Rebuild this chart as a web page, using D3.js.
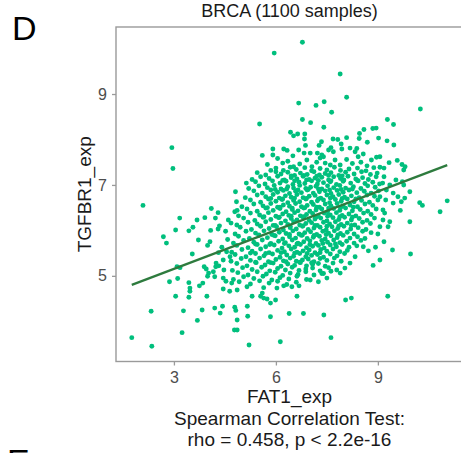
<!DOCTYPE html>
<html>
<head>
<meta charset="utf-8">
<script src="https://d3js.org/d3.v7.min.js"></script>
<style>
  body { margin: 0; background: #fff; }
  text { font-family: "Liberation Sans", Arial, sans-serif; }
</style>
</head>
<body>
<script>
// panel labels and texts
var panelLabel = "D", nextPanelLabel = "E";
var chartTitle = "BRCA (1100 samples)";
var xLabel = "FAT1_exp", yLabel = "TGFBR1_exp";
var testLines = ["Spearman Correlation Test:", "rho = 0.458, p < 2.2e-16"];
var xTicks = [3, 6, 9], yTicks = [5, 7, 9];

// linear fit
var fitIntercept = 4.30, fitSlope = 0.284;

// sparse points above the cloud
var topPoints = [
  [6.78,10.14],[5.95,9.90],[7.89,9.44],[8.08,8.93],[10.25,8.67],[6.67,8.80],[7.18,8.75],[7.42,8.83],
  [7.64,8.60],[6.78,8.44],[7.02,8.37],[5.52,8.34],[7.41,8.27],[9.28,8.44],[9.46,8.33],[8.85,8.24],
  [8.95,8.25],[8.59,8.22],[6.43,8.16],[6.52,8.08],[6.64,8.12],[6.85,8.12],[6.84,8.01],[6.87,7.87],
  [8.46,8.13],[8.45,8.02],[8.08,8.04],[9.02,8.03],[9.27,7.97],[9.47,7.88],[7.68,8.01],[7.82,8.00],
  [8.69,7.94],[7.92,7.90],[7.34,7.95],[7.27,7.87],[7.62,7.82],[7.69,7.73],[7.94,7.79],[5.91,7.79],
  [5.91,7.66],[5.60,7.65],[6.23,7.79],[6.33,7.76],[6.67,7.77],[6.50,7.64],[8.38,7.80],[8.18,7.81],
  [8.33,7.73],[8.42,7.62],[8.57,7.68],[8.81,7.55],[8.96,7.61],[9.06,7.62],[9.06,7.39],[9.33,7.49],
  [9.57,7.54],[9.71,7.45],[9.80,7.40],[9.76,7.33],[9.18,7.37],[6.83,7.70],[7.01,7.70],[7.22,7.70],
  [7.35,7.66],[7.55,7.77],[7.30,7.59],[7.40,7.62],[7.45,7.48],[7.06,7.40],[7.74,7.55],[7.89,7.44],
  [8.08,7.56],[6.91,7.55],[6.52,7.40],[5.85,7.32],[6.20,7.48],[6.35,7.52],[6.70,7.46],[7.20,7.50],
  [7.60,7.44],[8.25,7.47],[8.50,7.50],[8.68,7.42],[5.75,7.45],[6.05,7.58],
  [2.94,7.82],[2.97,7.36],[5.13,7.04],[4.81,6.85]
];

// sparse points right of the cloud
var rightPoints = [
  [9.18,7.18],[9.14,7.04],[9.35,7.00],[9.53,7.11],[9.72,7.07],[9.76,7.00],[9.94,6.85],[9.25,6.89],
  [9.45,6.82],[9.59,6.74],[9.69,6.63],[9.79,6.71],[9.23,6.67],[9.45,6.60],[9.06,6.74],[10.23,6.61],
  [10.31,6.55],[11.04,6.65],[10.83,6.41],[9.66,6.44],[9.94,6.19],[9.15,6.45],[9.20,6.38],[9.35,6.19],
  [9.30,6.08],[9.15,6.23],[9.06,6.08],[9.00,5.92],[9.18,5.75],[9.43,5.57],[9.96,5.48],[9.06,5.35],
  [8.86,5.23],[9.29,4.55],[8.33,5.42],[8.57,5.64],[8.72,5.55],[8.93,5.63]
];

// sparse points left of the cloud
var leftPoints = [
  [2.09,6.55],[3.17,6.27],[3.05,6.01],[2.69,5.86],[2.78,5.72],[3.44,5.99],[3.56,6.07],[3.68,6.23],
  [3.91,6.28],[4.10,6.48],[4.30,6.39],[4.22,6.27],[4.34,6.10],[4.30,6.03],[4.60,6.23],[4.68,6.16],
  [4.79,6.41],[4.84,6.63],[4.86,6.44],[4.08,6.00],[3.72,5.79],[3.99,5.67],[4.06,5.75],[3.54,5.48],
  [3.09,5.20],[3.18,5.18],[2.87,4.87],[3.11,4.94],[3.05,4.55],[3.44,4.85],[3.47,4.73],[3.47,4.66],
  [3.44,4.53],[3.75,4.78],[3.85,4.84],[3.97,4.55],[3.89,5.20],[3.95,5.15],[4.02,5.06],[3.99,4.99],
  [4.20,4.98],[4.16,5.09],[4.24,5.28],[3.83,4.25],[4.20,4.29],[4.36,4.18],[4.43,4.33],[3.69,4.02],
  [3.24,3.75],[2.33,4.22],[1.76,3.64],[2.35,3.45],[3.28,4.23],[4.23,5.20],[4.32,5.22],[4.45,4.95],
  [4.53,4.88],[4.70,4.84],[4.45,4.71],[4.64,4.66],[4.31,5.51],[4.41,5.63],[4.47,5.13],[4.55,5.53],
  [4.65,5.42],[4.45,5.35],[4.58,5.80],[4.52,5.98]
];

// sparse points below the cloud
var lowerPoints = [
  [4.79,4.31],[4.82,4.24],[5.16,4.33],[5.17,4.11],[4.78,3.81],[4.86,3.81],[5.21,3.48],[5.84,4.10],
  [6.13,3.55],[6.39,4.17],[6.81,4.17],[7.41,4.14],[7.62,3.64],[8.05,4.47],[8.22,4.51],[4.86,4.03],
  [5.15,4.76],[5.30,4.55],[5.84,4.40],[5.55,4.55],[5.64,4.51],[5.74,4.49],[5.99,4.47],[5.60,4.62],
  [5.64,4.74],[4.86,4.69],[6.03,4.73],[6.23,4.78],[6.47,4.76],[6.68,4.78],[7.01,4.91],[7.25,4.87],
  [7.50,4.95],[7.79,5.13],[7.89,5.06],[8.03,5.17],[7.35,5.05],[7.62,5.10],[7.92,5.32],[8.18,5.28],
  [6.62,4.55]
];

// dense middle of the cloud
var corePoints = [
  [6.00,7.37],[6.22,7.32],[6.42,7.39],[6.60,7.34],[6.85,7.38],[7.05,7.31],[7.30,7.36],[7.50,7.33],[7.72,7.39],[7.90,7.32],[8.15,7.35],[8.40,7.37],[8.65,7.31],[8.88,7.38],
  [5.45,7.27],[5.70,7.22],[6.00,7.29],[6.15,7.24],[6.35,7.28],[6.55,7.21],[6.72,7.26],[6.92,7.23],[7.12,7.29],[7.28,7.22],[7.45,7.25],[7.62,7.27],[7.85,7.21],[8.05,7.28],[8.30,7.24],[8.52,7.29],[8.78,7.23],[8.98,7.26],
  [5.30,7.12],[5.55,7.18],[5.80,7.14],[6.05,7.19],[6.25,7.11],[6.45,7.16],[6.62,7.13],[6.80,7.19],[6.98,7.12],[7.15,7.15],[7.35,7.17],[7.55,7.11],[7.70,7.18],[7.90,7.14],[8.12,7.19],[8.35,7.13],[8.55,7.16],[8.72,7.12],[8.95,7.18],
  [5.40,7.07],[5.68,7.02],[5.90,7.09],[6.12,7.04],[6.30,7.08],[6.50,7.01],[6.68,7.06],[6.85,7.03],[7.05,7.09],[7.22,7.02],[7.40,7.05],[7.60,7.07],[7.78,7.01],[7.98,7.08],[8.20,7.04],[8.42,7.09],[8.62,7.03],[8.85,7.06],[9.05,7.02],
  [5.20,6.92],[5.50,6.98],[5.75,6.94],[5.95,6.99],[6.15,6.91],[6.35,6.96],[6.52,6.93],[6.70,6.99],[6.88,6.92],[7.02,6.95],[7.18,6.97],[7.35,6.91],[7.52,6.98],[7.70,6.94],[7.88,6.99],[8.05,6.93],[8.28,6.96],[8.50,6.92],[8.70,6.98],[8.92,6.95],
  [5.35,6.87],[5.60,6.82],[5.85,6.89],[6.05,6.84],[6.22,6.88],[6.40,6.81],[6.58,6.86],[6.75,6.83],[6.92,6.89],[7.10,6.82],[7.28,6.85],[7.45,6.87],[7.62,6.81],[7.80,6.88],[7.98,6.84],[8.15,6.89],[8.38,6.83],[8.60,6.86],[8.80,6.82],[9.02,6.87],
  [5.10,6.72],[5.45,6.78],[5.70,6.74],[5.92,6.79],[6.10,6.71],[6.28,6.76],[6.45,6.73],[6.62,6.79],[6.80,6.72],[6.98,6.75],[7.15,6.77],[7.32,6.71],[7.50,6.78],[7.68,6.74],[7.85,6.79],[8.02,6.73],[8.22,6.76],[8.45,6.72],[8.68,6.78],[8.90,6.75],
  [5.25,6.67],[5.55,6.62],[5.78,6.69],[6.00,6.64],[6.18,6.68],[6.35,6.61],[6.52,6.66],[6.70,6.63],[6.88,6.69],[7.05,6.62],[7.22,6.65],[7.40,6.67],[7.58,6.61],[7.75,6.68],[7.92,6.64],[8.10,6.69],[8.30,6.63],[8.52,6.66],[8.75,6.62],[9.00,6.67],
  [5.00,6.52],[5.35,6.58],[5.62,6.54],[5.85,6.59],[6.05,6.51],[6.22,6.56],[6.40,6.53],[6.58,6.59],[6.75,6.52],[6.92,6.55],[7.10,6.57],[7.28,6.51],[7.45,6.58],[7.62,6.54],[7.80,6.59],[7.98,6.53],[8.18,6.56],[8.40,6.52],[8.62,6.58],[8.85,6.55],
  [5.15,6.47],[5.45,6.42],[5.70,6.49],[5.92,6.44],[6.12,6.48],[6.30,6.41],[6.48,6.46],[6.65,6.43],[6.82,6.49],[7.00,6.42],[7.18,6.45],[7.35,6.47],[7.52,6.41],[7.70,6.48],[7.88,6.44],[8.05,6.49],[8.25,6.43],[8.48,6.46],[8.70,6.42],[8.95,6.47],
  [4.90,6.32],[5.25,6.38],[5.52,6.34],[5.78,6.39],[6.00,6.31],[6.20,6.36],[6.38,6.33],[6.55,6.39],[6.72,6.32],[6.90,6.35],[7.08,6.37],[7.25,6.31],[7.42,6.38],[7.60,6.34],[7.78,6.39],[7.95,6.33],[8.15,6.36],[8.35,6.32],[8.58,6.38],[8.80,6.35],
  [5.05,6.27],[5.38,6.22],[5.62,6.29],[5.85,6.24],[6.08,6.28],[6.28,6.21],[6.45,6.26],[6.62,6.23],[6.80,6.29],[6.98,6.22],[7.15,6.25],[7.32,6.27],[7.50,6.21],[7.68,6.28],[7.85,6.24],[8.02,6.29],[8.22,6.23],[8.45,6.26],[8.68,6.22],[8.90,6.27],
  [4.85,6.12],[5.18,6.18],[5.45,6.14],[5.70,6.19],[5.92,6.11],[6.15,6.16],[6.35,6.13],[6.52,6.19],[6.70,6.12],[6.88,6.15],[7.05,6.17],[7.22,6.11],[7.40,6.18],[7.58,6.14],[7.75,6.19],[7.92,6.13],[8.10,6.16],[8.32,6.12],[8.55,6.18],[8.78,6.15],
  [4.95,6.07],[5.28,6.02],[5.55,6.09],[5.80,6.04],[6.02,6.08],[6.22,6.01],[6.42,6.06],[6.60,6.03],[6.78,6.09],[6.95,6.02],[7.12,6.05],[7.30,6.07],[7.48,6.01],[7.65,6.08],[7.82,6.04],[8.00,6.09],[8.20,6.03],[8.42,6.06],[8.65,6.02],
  [4.80,5.92],[5.12,5.98],[5.40,5.94],[5.65,5.99],[5.88,5.91],[6.10,5.96],[6.30,5.93],[6.50,5.99],[6.68,5.92],[6.85,5.95],[7.02,5.97],[7.20,5.91],[7.38,5.98],[7.55,5.94],[7.72,5.99],[7.90,5.93],[8.10,5.96],[8.30,5.92],[8.55,5.98],[8.80,5.95],
  [4.90,5.87],[5.22,5.82],[5.50,5.89],[5.75,5.84],[5.98,5.88],[6.20,5.81],[6.40,5.86],[6.58,5.83],[6.75,5.89],[6.92,5.82],[7.10,5.85],[7.28,5.87],[7.45,5.81],[7.62,5.88],[7.80,5.84],[7.98,5.89],[8.18,5.83],[8.40,5.86],[8.62,5.82],
  [4.75,5.72],[5.05,5.78],[5.35,5.74],[5.60,5.79],[5.85,5.71],[6.08,5.76],[6.28,5.73],[6.48,5.79],[6.65,5.72],[6.82,5.75],[7.00,5.77],[7.18,5.71],[7.35,5.78],[7.52,5.74],[7.70,5.79],[7.88,5.73],[8.08,5.76],[8.30,5.72],[8.50,5.78],
  [4.85,5.67],[5.18,5.62],[5.45,5.69],[5.70,5.64],[5.95,5.68],[6.18,5.61],[6.38,5.66],[6.55,5.63],[6.72,5.69],[6.90,5.62],[7.08,5.65],[7.25,5.67],[7.42,5.61],[7.60,5.68],[7.78,5.64],[7.95,5.69],[8.15,5.63],[8.38,5.66],
  [4.70,5.52],[5.00,5.58],[5.30,5.54],[5.55,5.59],[5.80,5.51],[6.05,5.56],[6.25,5.53],[6.45,5.59],[6.62,5.52],[6.80,5.55],[6.98,5.57],[7.15,5.51],[7.32,5.58],[7.50,5.54],[7.68,5.59],[7.88,5.53],[8.10,5.56],
  [4.80,5.47],[5.12,5.42],[5.40,5.49],[5.65,5.44],[5.90,5.48],[6.12,5.41],[6.32,5.46],[6.52,5.43],[6.70,5.49],[6.88,5.42],[7.05,5.45],[7.22,5.47],[7.40,5.41],[7.60,5.48],[7.80,5.44],[8.02,5.49],
  [4.68,5.32],[4.98,5.38],[5.25,5.34],[5.52,5.39],[5.78,5.31],[6.00,5.36],[6.22,5.33],[6.42,5.39],[6.60,5.32],[6.78,5.35],[6.95,5.37],[7.12,5.31],[7.30,5.38],[7.50,5.34],[7.72,5.39],
  [4.85,5.27],[5.15,5.22],[5.42,5.29],[5.68,5.24],[5.92,5.28],[6.15,5.21],[6.35,5.26],[6.55,5.23],[6.72,5.29],[6.90,5.22],[7.08,5.25],[7.25,5.27],[7.45,5.21],[7.68,5.28],
  [4.72,5.12],[5.02,5.18],[5.30,5.14],[5.58,5.19],[5.82,5.11],[6.05,5.16],[6.28,5.13],[6.48,5.19],[6.68,5.12],[6.88,5.15],[7.08,5.17],[7.30,5.11],[7.55,5.18],
  [4.88,5.07],[5.18,5.02],[5.45,5.09],[5.72,5.04],[5.98,5.08],[6.20,5.01],[6.42,5.06],[6.65,5.03],[6.88,5.09],[7.12,5.02],[7.40,5.05],
  [4.75,4.92],[5.05,4.98],[5.35,4.94],[5.62,4.99],[5.88,4.91],[6.12,4.96],[6.38,4.93],[6.62,4.99],[6.90,4.92],
  [4.92,4.87],[5.25,4.82],[5.52,4.89],[5.80,4.84],[6.05,4.88],[6.32,4.81],[6.60,4.86]
];

// extra points filling the thickest part of the cloud
var coreFillPoints = [
  [6.45,7.20],[6.82,7.21],[7.20,7.19],[7.55,7.21],[7.95,7.20],
  [6.20,7.10],[6.55,7.09],[6.90,7.11],[7.25,7.10],[7.62,7.09],[8.00,7.11],[8.40,7.10],
  [5.98,6.90],[6.32,6.91],[6.65,6.89],[6.95,6.90],[7.25,6.91],[7.58,6.89],[7.92,6.90],[8.25,6.91],
  [5.85,6.70],[6.20,6.69],[6.55,6.71],[6.90,6.70],[7.25,6.69],[7.60,6.71],[7.95,6.70],[8.35,6.69],
  [5.75,6.50],[6.12,6.51],[6.48,6.49],[6.85,6.50],[7.20,6.51],[7.55,6.49],[7.90,6.50],[8.28,6.51],
  [5.65,6.30],[6.10,6.29],[6.45,6.31],[6.82,6.30],[7.18,6.29],[7.52,6.31],[7.88,6.30],[8.25,6.29],
  [5.55,6.10],[5.98,6.11],[6.42,6.09],[6.80,6.10],[7.15,6.11],[7.50,6.09],[7.85,6.10],[8.22,6.11],
  [5.50,5.90],[5.95,5.89],[6.40,5.91],[6.78,5.90],[7.12,5.89],[7.48,5.91],[7.82,5.90],
  [5.40,5.70],[5.82,5.69],[6.25,5.71],[6.62,5.70],[7.00,5.69],[7.38,5.71],[7.75,5.70],
  [5.25,5.50],[5.70,5.49],[6.15,5.51],[6.55,5.50],[6.92,5.49],[7.30,5.51],
  [5.40,5.30],[5.85,5.29],[6.30,5.31],[6.70,5.30],[7.05,5.29]
];

var allPoints = corePoints.concat(coreFillPoints, topPoints, rightPoints, leftPoints, lowerPoints);

var W = 461, H = 453;
var panel = { left: 116, right: 463, top: 27, bottom: 361.5 };

var svg = d3.select("body").append("svg")
  .attr("width", W)
  .attr("height", H);

// ggplot-like 5% expansion of the data range
var xExt = d3.extent(allPoints, function(d) { return d[0]; });
var yExt = d3.extent(allPoints, function(d) { return d[1]; });
var xPad = (xExt[1] - xExt[0]) * 0.05, yPad = (yExt[1] - yExt[0]) * 0.05;

var x = d3.scaleLinear()
  .domain([xExt[0] - xPad, xExt[1] + xPad])
  .range([panel.left, panel.right]);
var y = d3.scaleLinear()
  .domain([yExt[0] - yPad, yExt[1] + yPad])
  .range([panel.bottom, panel.top]);

// points
svg.append("g")
  .selectAll("circle")
  .data(allPoints)
  .join("circle")
  .attr("cx", function(d) { return x(d[0]); })
  .attr("cy", function(d) { return y(d[1]); })
  .attr("r", 2.45)
  .attr("fill", "#00BF7D");

// fitted line over the data range
var fitLine = xExt.map(function(v) { return [v, fitIntercept + fitSlope * v]; });
svg.append("path")
  .datum(fitLine)
  .attr("fill", "none")
  .attr("stroke", "#2E7B3E")
  .attr("stroke-width", 2.3)
  .attr("d", d3.line()
    .x(function(d) { return x(d[0]); })
    .y(function(d) { return y(d[1]); }));

// panel border
svg.append("rect")
  .attr("x", panel.left)
  .attr("y", panel.top)
  .attr("width", panel.right - panel.left)
  .attr("height", panel.bottom - panel.top)
  .attr("fill", "none")
  .attr("stroke", "#9a9a9a")
  .attr("stroke-width", 1.4);

// axes
var xAxis = svg.append("g")
  .attr("transform", "translate(0," + panel.bottom + ")")
  .call(d3.axisBottom(x).tickValues(xTicks).tickSize(4).tickPadding(6).tickFormat(d3.format("d")));
var yAxis = svg.append("g")
  .attr("transform", "translate(" + panel.left + ",0)")
  .call(d3.axisLeft(y).tickValues(yTicks).tickSize(4).tickPadding(5).tickFormat(d3.format("d")));

[xAxis, yAxis].forEach(function(a) {
  a.select(".domain").remove();
  a.selectAll(".tick line").attr("stroke", "#9a9a9a").attr("stroke-width", 1.3);
  a.selectAll(".tick text")
    .attr("fill", "#4d4d4d")
    .style("font-size", "16px")
    .style("font-family", "'Liberation Sans', Arial, sans-serif");
});

// title
svg.append("text")
  .attr("x", (panel.left + panel.right) / 2)
  .attr("y", 17)
  .attr("text-anchor", "middle")
  .style("font-size", "18px")
  .attr("fill", "#1a1a1a")
  .text(chartTitle);

// x axis title + test result
svg.append("text")
  .attr("x", (panel.left + panel.right) / 2)
  .attr("y", 402.5)
  .attr("text-anchor", "middle")
  .style("font-size", "19px")
  .attr("fill", "#1a1a1a")
  .text(xLabel);
testLines.forEach(function(t, i) {
  svg.append("text")
    .attr("x", (panel.left + panel.right) / 2)
    .attr("y", 424.5 + i * 21.5)
    .attr("text-anchor", "middle")
    .style("font-size", "19px")
    .attr("fill", "#1a1a1a")
    .text(t);
});

// y axis title
svg.append("text")
  .attr("transform", "translate(90.5," + (panel.top + panel.bottom) / 2 + ") rotate(-90)")
  .attr("text-anchor", "middle")
  .style("font-size", "19px")
  .attr("fill", "#1a1a1a")
  .text(yLabel);

// panel letters (the next panel's letter is cut by the bottom edge, as in the figure)
svg.append("text")
  .attr("x", 12)
  .attr("y", 39.5)
  .style("font-size", "34px")
  .attr("fill", "#000")
  .text(panelLabel);
svg.append("text")
  .attr("x", 7)
  .attr("y", 473)
  .style("font-size", "34px")
  .attr("fill", "#000")
  .text(nextPanelLabel);
</script>
</body>
</html>
